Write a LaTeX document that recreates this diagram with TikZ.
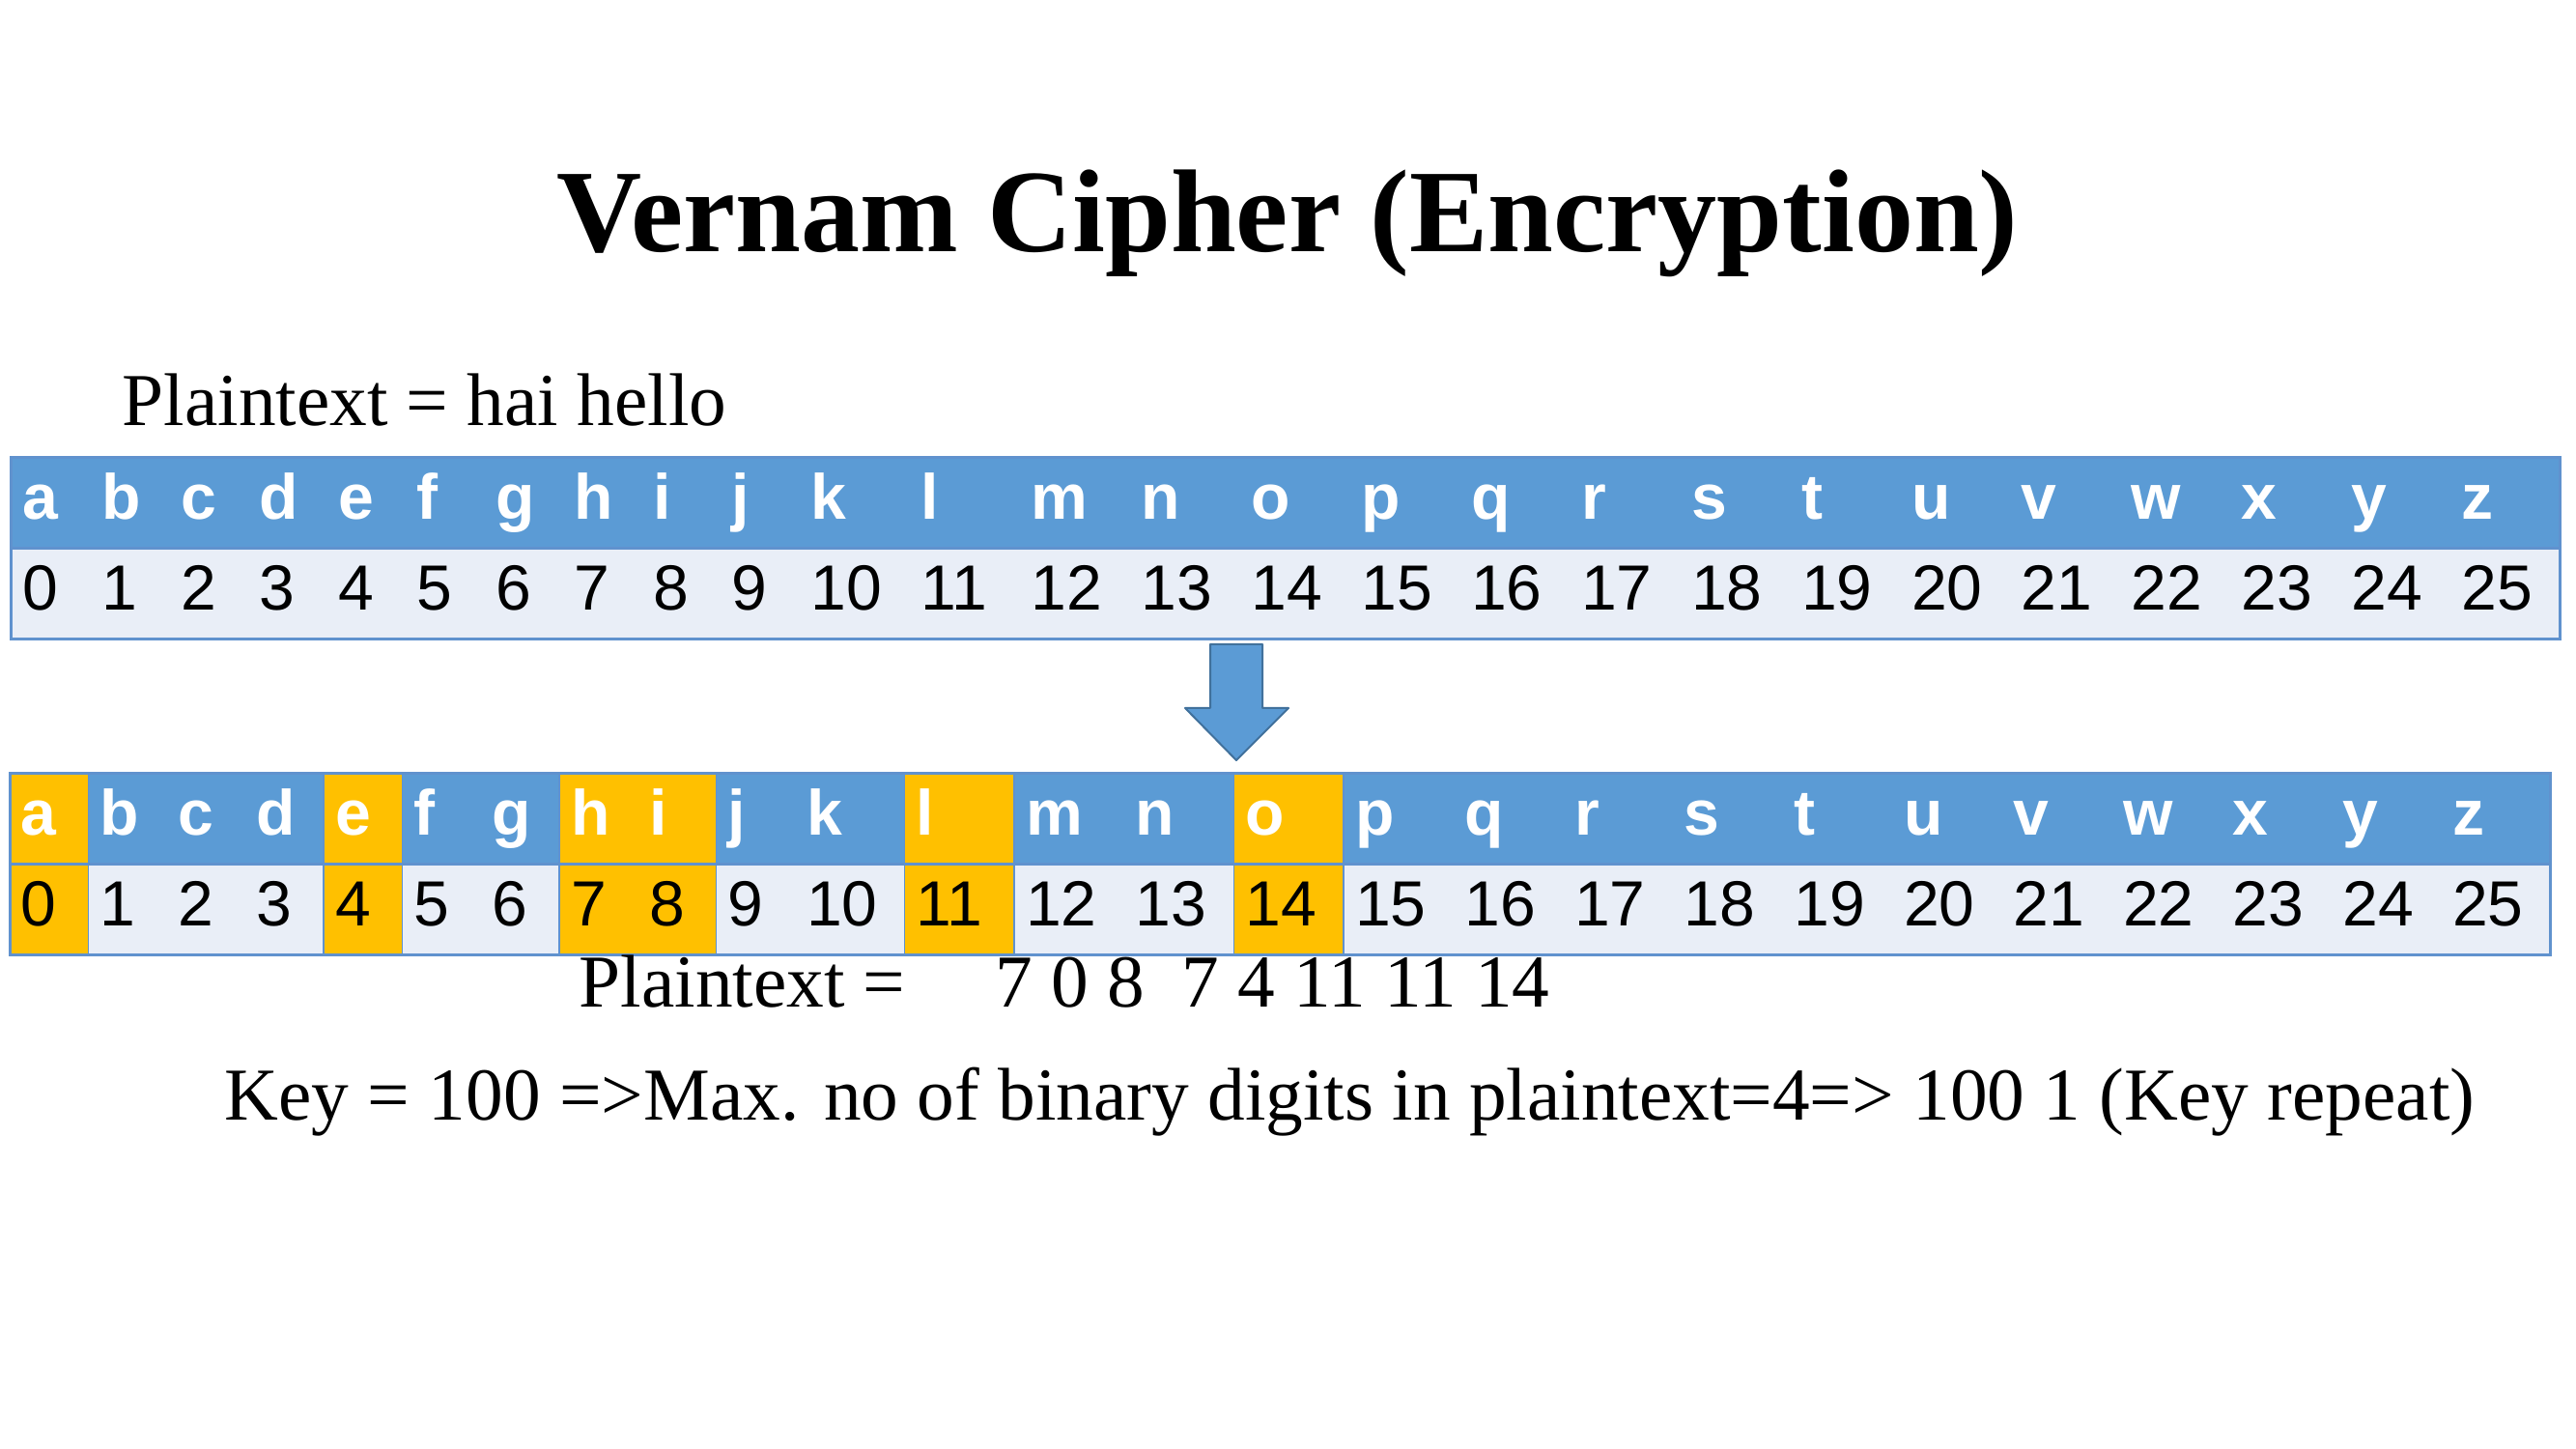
\documentclass[tikz,border=0pt]{standalone}
\usepackage{fontspec}
\setmainfont{Liberation Serif}
\newfontfamily\cellfont{Liberation Sans}
\usetikzlibrary{positioning,backgrounds}
\definecolor{CellBlue}{RGB}{91,155,213}
\definecolor{CellTint}{RGB}{233,238,247}
\definecolor{PickOrange}{RGB}{255,192,0}
\definecolor{FrameBlue}{RGB}{96,146,206}
\definecolor{ArrowEdge}{RGB}{65,113,156}
\tikzset{
  cell/.style={
    anchor=north west,
    outer sep=0pt,
    minimum height=9.4mm,
    inner xsep=1.2mm,
    inner ysep=0pt,
    text height=5.4mm,
    text depth=2mm,
    align=left
  },
  headcell/.style={cell, text=white, font=\cellfont\bfseries\fontsize{18.8}{22}\selectfont},
  numcell/.style={cell, text=black, font=\cellfont\fontsize{18.8}{22}\selectfont},
  tableframe/.style={draw=FrameBlue, line width=0.3mm},
  rowline/.style={draw=FrameBlue, line width=0.3mm},
  pickframe/.style={draw=FrameBlue, line width=0.15mm},
  blockarrow/.style={fill=CellBlue, draw=ArrowEdge, line width=0.2mm, line join=round},
  bodytext/.style={anchor=base west, inner sep=0pt, font=\fontsize{22}{26}\selectfont}
}

\begin{document}
\begin{tikzpicture}[x=1mm, y=-1mm]
  \useasboundingbox (0,0) rectangle (266.7,150);

  \node[anchor=base, inner sep=0pt, font=\bfseries\fontsize{34.7}{40}\selectfont] (title) at (133.3,26.1) {Vernam Cipher (Encryption)};
  \node[bodytext] (plain) at (12.6,44.1) {Plaintext = hai hello};

  % alphabet table
  \foreach \c [count=\i from 0] in {a,...,z}{
    \pgfmathsetmacro\wc{\i<10 ? 8.155 : 11.395}
    \pgfmathsetmacro\xl{\i<10 ? 1.2+\i*8.155 : 1.2+81.55+(\i-10)*11.395}
    \pgfmathsetmacro\tw{\wc-2.4}
    \node[headcell, text width=\tw mm] (ha-\i) at (\xl,47.4) {\c};
    \node[numcell, text width=\tw mm] (na-\i) at (\xl,56.8) {\i};
  }

  % same table, letters of the plaintext picked out
  \foreach \c [count=\i from 0] in {a,...,z}{
    \pgfmathsetmacro\wc{\i<10 ? 8.13 : 11.36}
    \pgfmathsetmacro\xl{\i<10 ? 1.0+\i*8.13 : 1.0+81.3+(\i-10)*11.36}
    \pgfmathsetmacro\tw{\wc-2.4}
    \pgfmathtruncatemacro\pick{(\i==0)||(\i==4)||(\i==7)||(\i==8)||(\i==11)||(\i==14)}
    \ifnum\pick=1 \def\cellfill{PickOrange}\else\def\cellfill{none}\fi
    \node[headcell, fill=\cellfill, text width=\tw mm] (hb-\i) at (\xl,80.1) {\c};
    \node[numcell, fill=\cellfill, text width=\tw mm] (nb-\i) at (\xl,89.5) {\i};
  }

  \begin{scope}[on background layer]
    \fill[white] (0,0) rectangle (266.7,150);
    \fill[CellBlue] (ha-0.north west) rectangle (ha-25.south east);
    \fill[CellTint] (na-0.north west) rectangle (na-25.south east);
    \fill[CellBlue] (hb-0.north west) rectangle (hb-25.south east);
    \fill[CellTint] (nb-0.north west) rectangle (nb-25.south east);
  \end{scope}
  \foreach \a/\b in {0/0,4/4,7/8,11/11,14/14}
    \draw[pickframe] (hb-\a.north west) rectangle (nb-\b.south east);
  \draw[rowline] (na-0.north west) -- (na-25.north east);
  \draw[rowline] (nb-0.north west) -- (nb-25.north east);
  \draw[tableframe] (ha-0.north west) rectangle (na-25.south east);
  \draw[tableframe] (hb-0.north west) rectangle (nb-25.south east);

  % block arrow between the tables
  \coordinate (tip) at (128.0,78.7);
  \draw[blockarrow] (125.3,66.7) -- (130.7,66.7) -- (130.7,73.3) -- (133.4,73.3)
    -- (tip) -- (122.7,73.3) -- (125.3,73.3) -- cycle;

  \node[bodytext] (pnums) at (59.9,104.3) {Plaintext =\hspace{1.2em}7 0 8\hspace{0.5em}7 4 11 11 14};
  \node[bodytext] (keyline) at (23.2,116.0) {Key = 100 =>Max. no of binary digits in plaintext=4=> 100 1 (Key repeat)};
\end{tikzpicture}
\end{document}
